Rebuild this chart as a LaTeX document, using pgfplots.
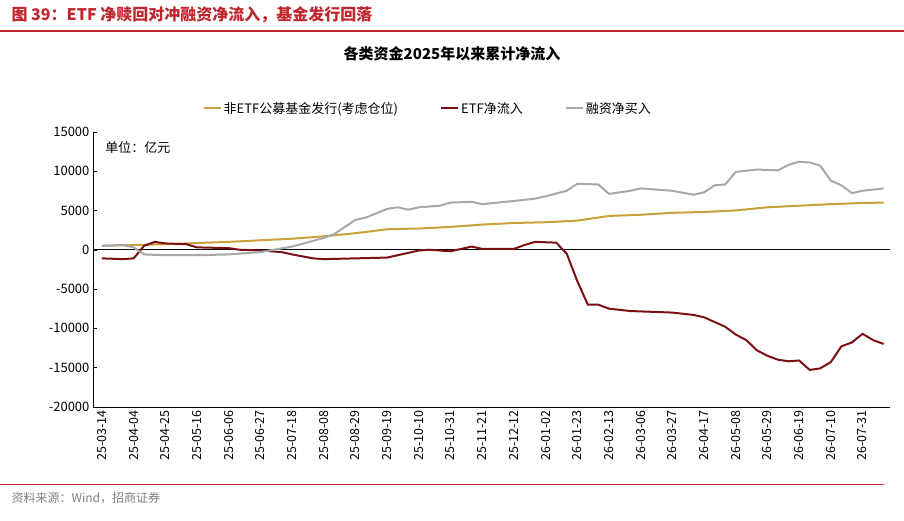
\documentclass[border=0pt]{standalone}
\usepackage{pgfplots}
\pgfplotsset{compat=1.18}
\usepackage{fontspec}
\setmainfont{Noto Sans CJK SC}
\definecolor{gold}{HTML}{C9A03A}
\definecolor{etf}{HTML}{7A1015}
\definecolor{gry}{HTML}{A8A8A8}
\definecolor{hred}{HTML}{C0262D}
\begin{document}
\begin{tikzpicture}[x=1pt,y=1pt]
\path[use as bounding box] (0,0) rectangle (904,520);
\node[anchor=west,text=hred,font=\bfseries\fontsize{16}{18}\selectfont] at (8,505) {图 39：ETF 净赎回对冲融资净流入，基金发行回落};
\draw[hred,line width=1.5pt] (0,489) -- (904,489);
\draw[hred,line width=0.8pt] (0,36) -- (884,36);
\node[anchor=west,text=gray,font=\fontsize{12}{14}\selectfont] at (8,22) {资料来源：Wind，招商证券};
\node[font=\bfseries\fontsize{15}{17}\selectfont] at (452,466) {各类资金2025年以来累计净流入};
\begin{axis}[at={(88,144)},anchor=south west,scale only axis,width=797,height=275,
 xmin=-0.85,xmax=74.6,ymin=-20000,ymax=15000,
 ytick={-20000,-15000,...,15000},
 /pgf/number format/1000 sep={},
 /pgf/number format/fixed,
 ticklabel style={font=\fontsize{13}{15}\selectfont},
 /pgf/number format/assume math mode=true,
 scaled y ticks=false,
 xtick={0,3,...,72},
 xticklabels={25-03-14,25-04-04,25-04-25,25-05-16,25-06-06,25-06-27,25-07-18,25-08-08,25-08-29,25-09-19,25-10-10,25-10-31,25-11-21,25-12-12,26-01-02,26-01-23,26-02-13,26-03-06,26-03-27,26-04-17,26-05-08,26-05-29,26-06-19,26-07-10,26-07-31},
 xticklabel style={rotate=90,anchor=east,font=\fontsize{12.5}{14}\selectfont},
 axis x line*=bottom, axis y line*=left, x axis line style={-},y axis line style={-},
 tick style={black}, major tick length=4pt, xtick style={draw=none},
 clip=false,
 legend style={at={(0.42,1.085)},anchor=center,draw=none,legend columns=3,font=\fontsize{13}{15}\selectfont,/tikz/every even column/.append style={column sep=40pt}},
 legend cell align=left,
]
\draw[black,line width=0.6pt] (axis cs:-0.85,0) -- (axis cs:74.6,0);
\addplot[gold,line width=2pt] coordinates {(0,500)(3,600)(6,700)(9,850)(12,1000)(15,1200)(18,1400)(21,1700)(24,2100)(27,2600)(30,2700)(33,2900)(36,3200)(39,3400)(42,3500)(45,3700)(48,4300)(51,4450)(54,4700)(57,4800)(60,5000)(63,5400)(66,5600)(69,5800)(72,5950)(74,6000)};
\addlegendentry{非ETF公募基金发行(考虑仓位)}
\addplot[etf,line width=2pt] coordinates {(0,-1100)(2,-1200)(3,-1100)(4,500)(5,1000)(6,800)(8,700)(9,300)(12,200)(13,0)(15,-100)(17,-300)(18,-600)(20,-1100)(21,-1200)(24,-1100)(27,-1000)(29,-400)(30,-100)(31,0)(33,-200)(35,400)(36,100)(39,100)(40,600)(41,1000)(43,900)(44,-500)(45,-4000)(46,-7000)(47,-7000)(48,-7500)(50,-7800)(52,-7900)(54,-8000)(56,-8300)(57,-8600)(58,-9200)(59,-9800)(60,-10800)(61,-11500)(62,-12800)(63,-13500)(64,-14000)(65,-14200)(66,-14100)(67,-15300)(68,-15100)(69,-14300)(70,-12300)(71,-11800)(72,-10700)(73,-11500)(74,-12000)};
\addlegendentry{ETF净流入}
\addplot[gry,line width=2pt] coordinates {(0,500)(2,600)(3,300)(4,-600)(6,-700)(9,-700)(12,-600)(14,-400)(15,-300)(18,400)(21,1500)(22,2000)(24,3800)(25,4100)(27,5200)(28,5400)(29,5100)(30,5400)(32,5600)(33,6000)(35,6100)(36,5800)(39,6200)(41,6500)(42,6800)(44,7500)(45,8400)(47,8300)(48,7100)(50,7500)(51,7800)(52,7700)(54,7500)(56,7000)(57,7300)(58,8200)(59,8300)(60,9900)(62,10200)(64,10100)(65,10800)(66,11200)(67,11100)(68,10700)(69,8800)(70,8200)(71,7200)(72,7500)(74,7800)};
\addlegendentry{融资净买入}
\node[anchor=west,font=\fontsize{13}{15}\selectfont] at (axis cs:0,13000) {单位：亿元};
\end{axis}
\end{tikzpicture}
\end{document}
